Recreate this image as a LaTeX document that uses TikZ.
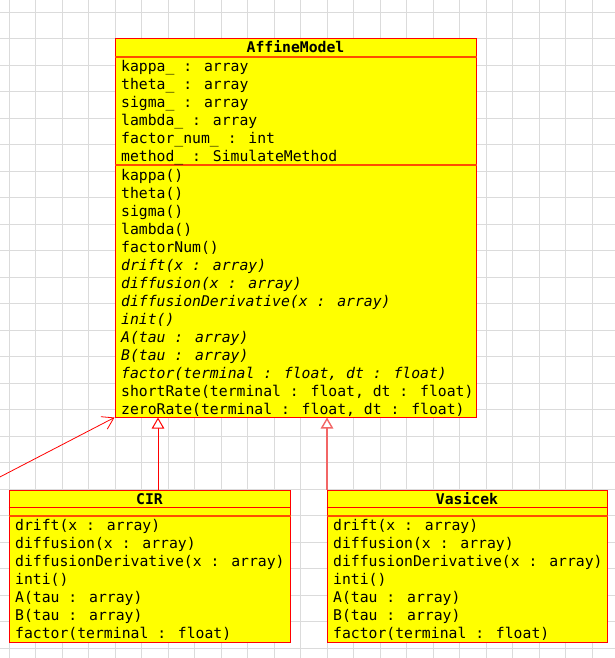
\documentclass[tikz,border=0pt]{standalone}
\usepackage{fontspec}
\newfontfamily\umlfont{DejaVu Sans Mono}
\usetikzlibrary{arrows.meta}
\definecolor{umlyellow}{rgb}{1,1,0}
\definecolor{umlred}{rgb}{1,0,0}
\definecolor{umldiv}{rgb}{1,0.3,0}
\definecolor{gridgray}{rgb}{0.86,0.86,0.86}
\definecolor{pinkline}{rgb}{0.95,0.4,0.4}
\tikzset{
  classbox/.style={draw=umlred, fill=umlyellow, line width=1pt, inner sep=0pt},
  divider/.style={draw=umldiv, line width=1.4pt},
  thindiv/.style={draw=umlred, line width=1pt},
  classname/.style={font=\umlfont\bfseries\fontsize{14.75}{18}\selectfont, anchor=base, inner sep=0pt},
  members/.style={font=\umlfont\fontsize{14.75}{18}\selectfont, anchor=base west, align=left, inner sep=0pt},
  inherit/.style={color=umlred, line width=1pt, -{Triangle[width=12.5pt, length=11pt, fill=white]}},
  assoc/.style={color=umlred, line width=0.8pt, -{Straight Barb[length=11pt, width=14pt]}},
}
\begin{document}
\begin{tikzpicture}[x=1pt, y=-1pt]
\useasboundingbox (0,0) rectangle (615,658);
\fill[white] (0,0) rectangle (615,658);
% grid
\foreach \k in {0,...,22} \draw[gridgray, line width=1pt] ({9+26.5*\k},0) -- ({9+26.5*\k},658);
\foreach \k in {0,...,24} \draw[gridgray, line width=1pt] (0,{12.3+26.5*\k}) -- (615,{12.3+26.5*\k});

% AffineModel
\node[classbox, minimum width=361pt, minimum height=378pt] (affine) at (295.5,228) {};
\draw[divider] (affine.west |- 0,57) -- (affine.east |- 0,57);
\draw[divider] (affine.west |- 0,165) -- (affine.east |- 0,165);
\node[classname] (affname) at (295.5,53) {AffineModel};
% members nodes: base anchor is the baseline of the LAST line
\node[members] (affattr) at (121,161.5) {kappa\_ : array\\theta\_ : array\\sigma\_ : array\\lambda\_ : array\\factor\_num\_ : int\\method\_ : SimulateMethod};
\node[members] (affops) at (121,414.5) {kappa()\\theta()\\sigma()\\lambda()\\factorNum()\\\textit{drift(x : array)}\\\textit{diffusion(x : array)}\\\textit{diffusionDerivative(x : array)}\\\textit{init()}\\\textit{A(tau : array)}\\\textit{B(tau : array)}\\\textit{factor(terminal : float, dt : float)}\\shortRate(terminal : float, dt : float)\\zeroRate(terminal : float, dt : float)};

% CIR
\node[classbox, minimum width=281pt, minimum height=152pt] (cir) at (149.5,566) {};
\draw[thindiv] (cir.west |- 0,507) -- (cir.east |- 0,507);
\draw[divider] (cir.west |- 0,516) -- (cir.east |- 0,516);
\node[classname] (cirname) at (149.5,504) {CIR};
\node[members] (cirops) at (15,638.5) {drift(x : array)\\diffusion(x : array)\\diffusionDerivative(x : array)\\inti()\\A(tau : array)\\B(tau : array)\\factor(terminal : float)};

% Vasicek
\node[classbox, minimum width=280pt, minimum height=152pt] (vas) at (467,566) {};
\draw[thindiv] (vas.west |- 0,507) -- (vas.east |- 0,507);
\draw[divider] (vas.west |- 0,516) -- (vas.east |- 0,516);
\node[classname] (vasname) at (467,504) {Vasicek};
\node[members] (vasops) at (333,638.5) {drift(x : array)\\diffusion(x : array)\\diffusionDerivative(x : array)\\inti()\\A(tau : array)\\B(tau : array)\\factor(terminal : float)};

% connectors
\coordinate (cirx) at (158,0);
\coordinate (vasx) at (327,0);
\coordinate (src) at (-4,479);
\draw[inherit] (cirx |- cir.north) -- (cirx |- affine.south);
\draw[inherit, color=pinkline, line width=1.4pt] (vasx |- vas.north) -- (vasx |- affine.south);
\draw[assoc] (src) -- (affine.south west);
\end{tikzpicture}
\end{document}
